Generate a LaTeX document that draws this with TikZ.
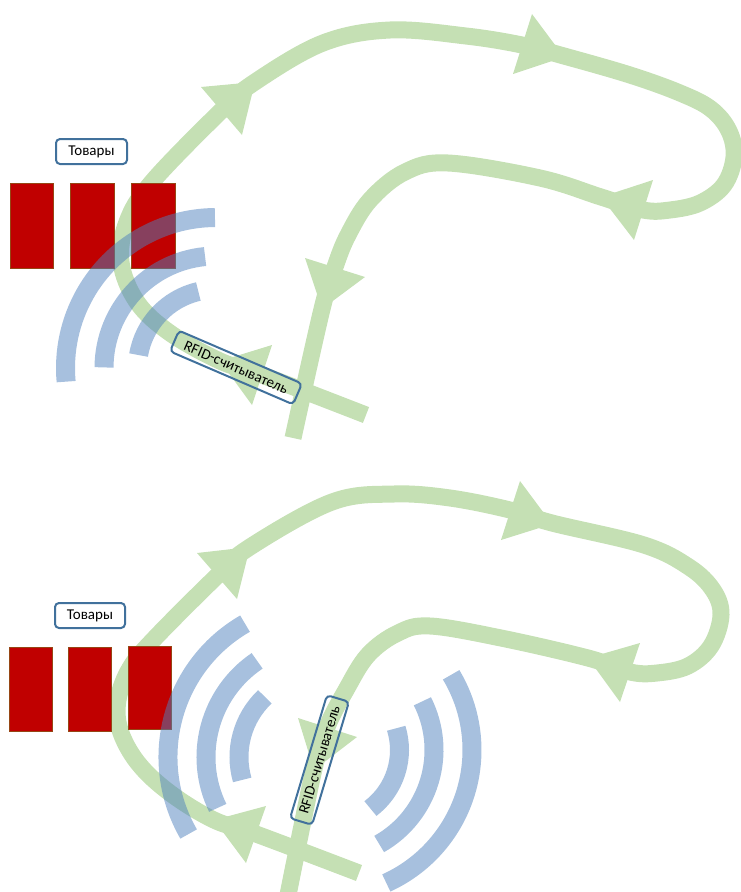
\documentclass[tikz,border=0pt]{standalone}
\usepackage{fontspec}
\setmainfont{Carlito}
\definecolor{flowgreen}{RGB}{197,224,180}
\definecolor{wavecol}{RGB}{79,129,189}
\definecolor{tagblue}{RGB}{65,113,156}
\definecolor{goodsred}{RGB}{192,0,0}
\definecolor{goodsedge}{RGB}{150,70,20}
\begin{document}
\begin{tikzpicture}[x=1pt,y=-1pt,
    flow/.style={draw=flowgreen, line width=17pt, line join=round},
    head/.style={fill=flowgreen},
    wave/.style={draw=wavecol, draw opacity=0.5, line width=19pt},
    goods/.style={fill=goodsred, draw=goodsedge, line width=0.8pt},
    tag/.style={draw=tagblue, line width=2pt, rounded corners=4pt, inner sep=0pt, font=\fontsize{15}{18}\selectfont}]
\useasboundingbox (0,0) rectangle (741,892);

% Panel 1 - reader beside the loop
    % Loop of the tag
    \draw[flow] plot[smooth, tension=0.6] coordinates {(366,415) (262,375) (220,361) (170,333) (137,302) (121,262) (127,222) (152,182) (221,111) (255,82) (323,43) (390,30) (466,36) (522,45) (564,56) (630,75) (680,93) (711,109) (729,131) (734,157) (724,185) (700,203) (670,210) (643,210) (601,197) (540,178) (448,163) (405,172) (370,200) (348,235) (335,267) (322,309) (293,438)};
    % Arrow heads
    \fill[head] (272,345) -- (252,405) -- (220,361) -- cycle;
    \fill[head] (201,87) -- (242,135) -- (255,82) -- cycle;
    \fill[head] (532,14) -- (513,74) -- (564,57) -- cycle;
    \fill[head] (653,180) -- (634,240) -- (601,197) -- cycle;
    \fill[head] (305,258) -- (365,277) -- (322,309) -- cycle;
    % Goods
    \draw[goods] (10,183) rectangle (53,268);
    \draw[goods] (70,183) rectangle (114,268);
    \draw[goods] (131,183) rectangle (175,268);
    % Waves
    \draw[wave] (216,368) ++(-90.4:150.5) arc[start angle=-90.4, end angle=-185.2, radius=150.5];
    \draw[wave] (216,368) ++(-95.6:112) arc[start angle=-95.6, end angle=-179.7, radius=112];
    \draw[wave] (216,368) ++(-103:78.5) arc[start angle=-103, end angle=-170.5, radius=78.5];
    % Labels
    \node[tag, fill=white, minimum width=71pt, minimum height=25pt] (goodsA) at (91.5,151.5) {Товары};
    \node[tag, rotate=-23.3, minimum width=134pt, minimum height=22.6pt] (readerA) at (236,367.5) {RFID-считыватель};

% Panel 2 - reader inside the loop
    % Loop of the tag
    \draw[flow] plot[smooth, tension=0.6] coordinates {(359,873) (256,834) (214,820) (170,793) (138,763) (120,730) (118,700) (130,668) (155,638) (217,576) (250,547) (332,502) (394,494) (450,498) (510,510) (552,523) (644,545) (689,567) (713,590) (721,615) (711,646) (688,666) (657,673) (630,672) (588,658) (501,638) (430,626) (398,633) (368,655) (346,690) (327,727) (314,769) (288,895)};
    % Arrow heads
    \fill[head] (266,806) -- (246,863) -- (214,820) -- cycle;
    \fill[head] (197,553) -- (237,599) -- (250,547) -- cycle;
    \fill[head] (520,481) -- (501,540) -- (552,524) -- cycle;
    \fill[head] (640,643) -- (620,702) -- (588,658) -- cycle;
    \fill[head] (298,718) -- (357,737) -- (314,770) -- cycle;
    % Goods
    \draw[goods] (9,647) rectangle (52,731);
    \draw[goods] (68,647) rectangle (111,731);
    \draw[goods] (128,646) rectangle (171,729);
    % Waves, left side
    \draw[wave] (322,757) ++(-120:154) arc[start angle=-120, end angle=-210, radius=154];
    \draw[wave] (322,757) ++(-124:116) arc[start angle=-124, end angle=-206, radius=116];
    \draw[wave] (322,757) ++(-133.5:83) arc[start angle=-133.5, end angle=-196, radius=83];
    % Waves, right side
    \draw[wave] (326,750) ++(65.6:146) arc[start angle=65.6, end angle=-31, radius=146];
    \draw[wave] (326,750) ++(60.5:108) arc[start angle=60.5, end angle=-26.8, radius=108];
    \draw[wave] (326,750) ++(52.8:73.5) arc[start angle=52.8, end angle=-17.2, radius=73.5];
    % Labels
    \node[tag, fill=white, minimum width=70pt, minimum height=25pt] (goodsB) at (90,615.5) {Товары};
    \node[tag, rotate=73.3, minimum width=128.5pt, minimum height=23pt] (readerB) at (319.5,760) {RFID-считыватель};
\end{tikzpicture}
\end{document}
